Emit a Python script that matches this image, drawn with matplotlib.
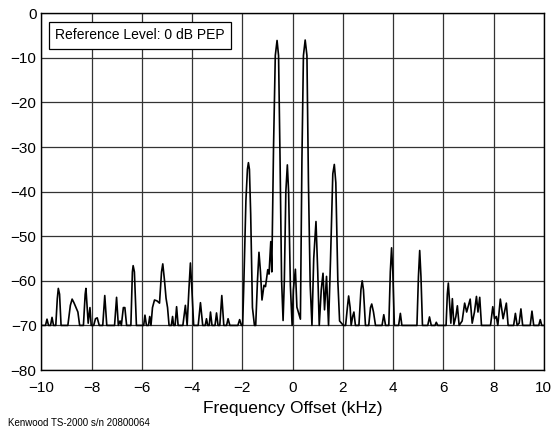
import matplotlib
matplotlib.use("Agg")
import matplotlib.pyplot as plt

plt.rcParams['font.family'] = ['Liberation Sans', 'DejaVu Sans']

# spectrum trace (kHz, dB)
freq = [
    -10.0, -9.84, -9.78, -9.72, -9.64, -9.58, -9.52, -9.43, -9.37, -9.33, -9.28, -9.22,
    -8.95, -8.85, -8.78, -8.70, -8.55, -8.48,
    -8.33, -8.26, -8.23, -8.18, -8.14, -8.07, -8.02,
    -7.92, -7.85, -7.78, -7.70,
    -7.56, -7.48, -7.40,
    -7.09, -7.01, -6.94, -6.87, -6.82, -6.74, -6.68, -6.61,
    -6.44, -6.38, -6.35, -6.30, -6.22,
    -5.93, -5.88, -5.82, -5.74, -5.69, -5.64, -5.58, -5.50, -5.40, -5.30, -5.22, -5.17, -5.10, -5.04, -4.98, -4.92,
    -4.83, -4.78, -4.74, -4.68, -4.62, -4.56,
    -4.37, -4.27, -4.20, -4.13, -4.07, -4.01, -3.94,
    -3.76, -3.67, -3.58, -3.48, -3.43, -3.38, -3.32, -3.27, -3.21, -3.09, -3.03, -2.97, -2.90, -2.82, -2.74,
    -2.63, -2.57, -2.50, -2.18, -2.11, -2.04, -1.99,
    -1.94, -1.86, -1.80, -1.76, -1.72, -1.67, -1.60, -1.52, -1.47,
    -1.40, -1.34, -1.28, -1.22, -1.14, -1.08, -0.99, -0.94, -0.87, -0.83,
    -0.76, -0.69, -0.62, -0.56, -0.50, -0.44, -0.38, -0.33, -0.27, -0.21, -0.16, -0.09, -0.02,
    0.03, 0.11, 0.17, 0.31,
    0.37, 0.43, 0.50, 0.57, 0.63, 0.70, 0.77, 0.84, 0.93, 1.00, 1.06, 1.14, 1.21, 1.27, 1.35, 1.43,
    1.51, 1.60, 1.66, 1.72, 1.80, 1.87, 2.02, 2.11,
    2.18, 2.23, 2.29, 2.33, 2.39, 2.44, 2.50, 2.64, 2.72, 2.77, 2.82, 2.90, 3.03, 3.10, 3.15, 3.22, 3.30,
    3.56, 3.63, 3.70, 3.83, 3.89, 3.94, 3.99, 4.05, 4.22, 4.29, 4.35,
    4.95, 5.01, 5.06, 5.11, 5.17, 5.38, 5.45, 5.52, 5.67, 5.72, 5.78,
    6.11, 6.16, 6.20, 6.25, 6.30, 6.36, 6.42, 6.50, 6.56, 6.63, 6.75, 6.85, 6.93, 7.07, 7.15, 7.24, 7.32, 7.38, 7.45, 7.52,
    7.88, 7.97, 8.04, 8.11, 8.17, 8.27, 8.38, 8.51, 8.58, 8.80, 8.87, 8.94, 9.02, 9.09, 9.16,
    9.46, 9.53, 9.60, 9.80, 9.86, 9.92, 10.0,
]
level = [
    -70, -70, -68.6, -70, -70, -68.2, -70, -70, -64, -61.7, -63, -70,
    -70, -65.5, -64.1, -65, -67, -70,
    -70, -63, -61.7, -66, -69.5, -66, -70,
    -70, -68.5, -68.3, -70,
    -70, -63.3, -70,
    -70, -63.7, -70, -69, -70, -66, -66, -70,
    -70, -58, -56.6, -58, -70,
    -70, -67.7, -70, -70, -68, -70, -66, -64.3, -64.5, -65, -58, -56.2, -60, -63.9, -66, -70,
    -70, -68, -70, -70, -65.8, -70,
    -70, -65.5, -70, -62, -56, -62, -70,
    -70, -64.9, -70, -70, -68.5, -70, -70, -67, -70, -70, -67.2, -70, -70, -63.3, -70,
    -70, -68.5, -70, -70, -68.7, -70, -70,
    -60, -42, -35, -33.5, -35, -45, -66, -70, -70,
    -60, -53.6, -58, -64.3, -61, -61.3, -57.5, -58.5, -51.2, -58,
    -30, -9.5, -6.1, -9.5, -33, -59.8, -68.9, -60, -40, -34, -40, -61, -70,
    -62, -57.4, -65.9, -68.6,
    -33, -9.5, -6.0, -9.5, -38, -61, -70, -55, -46.7, -58, -70, -62, -58.3, -66.5, -59, -70,
    -55, -36, -33.9, -38, -60, -69, -70, -70,
    -66, -63.4, -66, -70, -68, -67, -70, -70, -62, -60, -62, -70, -70, -66, -65.2, -67, -70,
    -70, -67.6, -70, -70, -58, -52.6, -58, -70, -70, -67.3, -70,
    -70, -59, -53.2, -59, -70, -70, -68.1, -70, -70, -69.3, -70,
    -70, -63, -60.5, -65, -69.5, -64, -69.8, -68, -65.6, -70, -69, -65, -67, -64.1, -69.5, -67, -63.5, -67, -63.7, -70,
    -70, -65.8, -68.5, -68, -70, -64.1, -68.5, -65, -70, -70, -67.3, -70, -69.5, -66.3, -70,
    -70, -66.8, -70, -70, -68.7, -70, -70,
]

xticks = [-10, -8, -6, -4, -2, 0, 2, 4, 6, 8, 10]
yticks = [0, -10, -20, -30, -40, -50, -60, -70, -80]

fig = plt.figure(figsize=(5.56, 4.28), dpi=100)
ax = fig.add_axes([0.0746, 0.1355, 0.9034, 0.8335])

ax.plot(freq, level, color='black', linewidth=1.2)

ax.set_xlim(-10, 10)
ax.set_ylim(-80, 0)
ax.set_xticks(xticks)
ax.set_yticks(yticks)
ax.tick_params(length=0, labelsize=11, colors='black')
ax.tick_params(axis='x', pad=8)
ax.tick_params(axis='y', pad=3.5)
ax.grid(True, color='#333333', linewidth=0.9)
ax.set_axisbelow(True)
for s in ax.spines.values():
    s.set_linewidth(1.0)
    s.set_color('black')

ax.set_xlabel('Frequency Offset (kHz)', fontsize=12.5, labelpad=4)

ax.text(0.027, 0.938, 'Reference Level: 0 dB PEP', transform=ax.transAxes,
        fontsize=10, va='center', ha='left',
        bbox=dict(boxstyle='square,pad=0.45', facecolor='white', edgecolor='black', linewidth=0.9))

fig.text(0.014, 0.004, 'Kenwood TS-2000 s/n 20800064', fontsize=7, ha='left', va='baseline')

fig.savefig('out.png', dpi=100)
